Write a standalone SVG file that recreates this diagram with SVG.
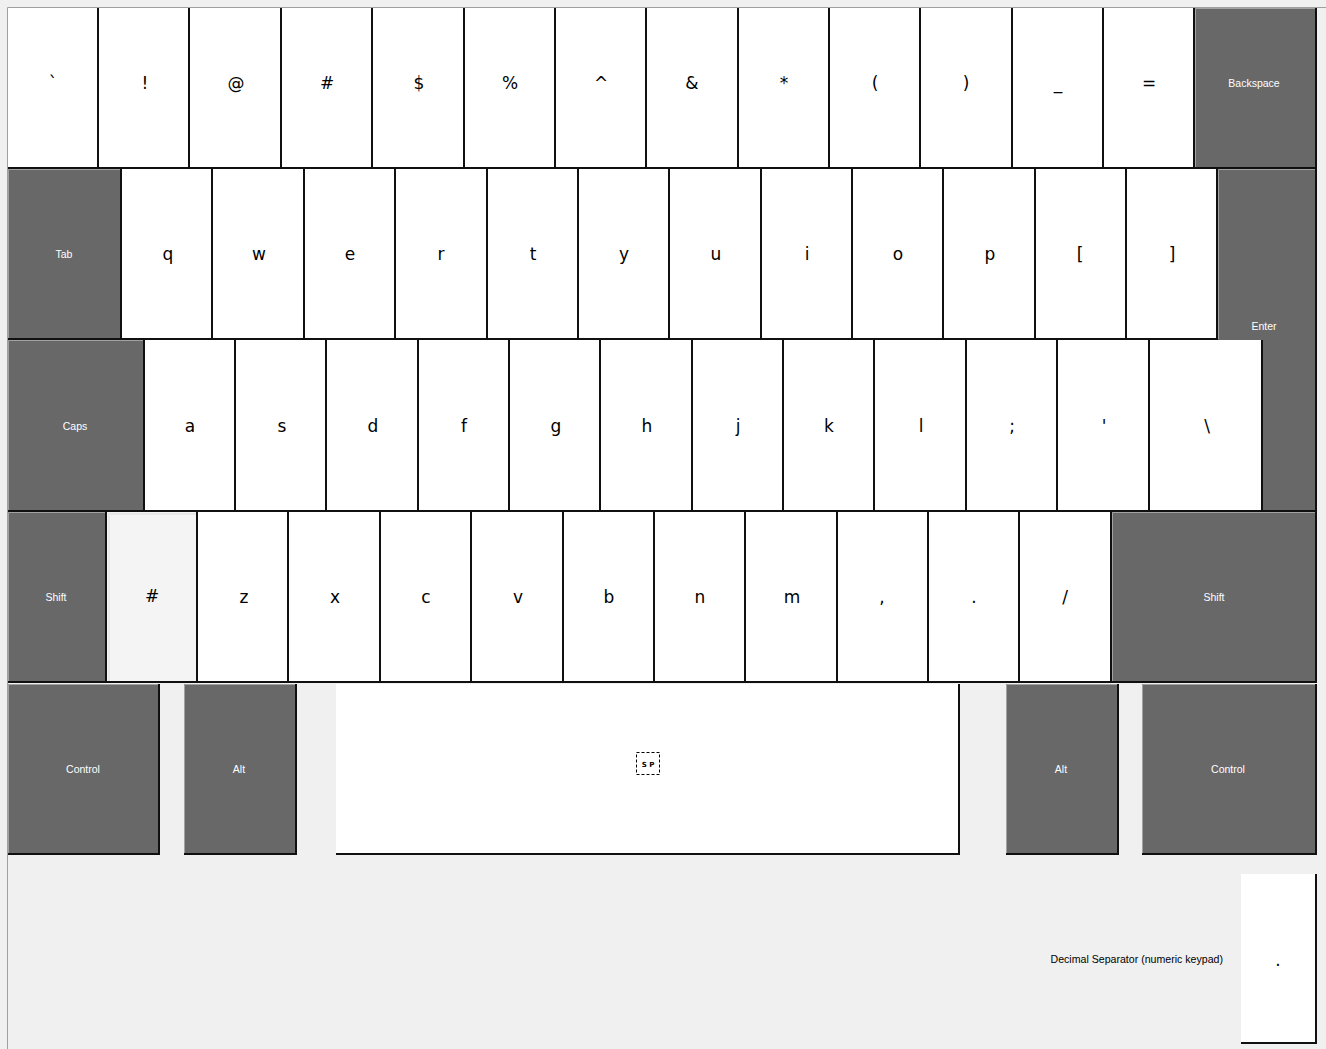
<svg xmlns="http://www.w3.org/2000/svg" width="1326" height="1049" viewBox="0 0 1326 1049">
<style>
.w{fill:#ffffff}
.d{fill:#686868}
.g{fill:#f4f4f4}
.sh{fill:none;stroke:#101010;stroke-width:2}
.hl{fill:none;stroke:#a2a2a2;stroke-width:1}
.hg{fill:none;stroke:#e8e8e8;stroke-width:2}
.t{font-family:"DejaVu Sans",sans-serif;font-size:17px;fill:#000;text-anchor:middle}
.s{font-family:"Liberation Sans",Arial,sans-serif;font-size:10.5px;fill:#fff;text-anchor:middle}
</style>
<rect x="0" y="0" width="1326" height="1049" fill="#f0f0f0"/>
<path d="M7.5 1049 V7.5 H1326" fill="none" stroke="#a0a0a0" stroke-width="1"/>
<g id="connectors"></g>
<!-- Row 1 -->
<g id="k-backtick"><rect class="w" x="8" y="8" width="91" height="161"/><polyline class="sh" points="8,168 98,168 98,8"/><text class="t" x="53" y="89">`</text></g>
<g id="k-excl"><rect class="w" x="99" y="8" width="91" height="161"/><polyline class="sh" points="99,168 189,168 189,8"/><text class="t" x="145" y="89">!</text></g>
<g id="k-at"><rect class="w" x="190" y="8" width="92" height="161"/><polyline class="sh" points="190,168 281,168 281,8"/><text class="t" x="236" y="89">@</text></g>
<g id="k-hash"><rect class="w" x="282" y="8" width="91" height="161"/><polyline class="sh" points="282,168 372,168 372,8"/><text class="t" x="327" y="89">#</text></g>
<g id="k-dollar"><rect class="w" x="373" y="8" width="92" height="161"/><polyline class="sh" points="373,168 464,168 464,8"/><text class="t" x="419" y="89">$</text></g>
<g id="k-percent"><rect class="w" x="465" y="8" width="91" height="161"/><polyline class="sh" points="465,168 555,168 555,8"/><text class="t" x="510" y="89">%</text></g>
<g id="k-caret"><rect class="w" x="556" y="8" width="91" height="161"/><polyline class="sh" points="556,168 646,168 646,8"/><text class="t" x="601" y="89">^</text></g>
<g id="k-amp"><rect class="w" x="647" y="8" width="92" height="161"/><polyline class="sh" points="647,168 738,168 738,8"/><text class="t" x="692" y="89">&amp;</text></g>
<g id="k-star"><rect class="w" x="739" y="8" width="91" height="161"/><polyline class="sh" points="739,168 829,168 829,8"/><text class="t" x="784" y="89">*</text></g>
<g id="k-lparen"><rect class="w" x="830" y="8" width="91" height="161"/><polyline class="sh" points="830,168 920,168 920,8"/><text class="t" x="875" y="89">(</text></g>
<g id="k-rparen"><rect class="w" x="921" y="8" width="92" height="161"/><polyline class="sh" points="921,168 1012,168 1012,8"/><text class="t" x="966" y="89">)</text></g>
<g id="k-underscore"><rect class="w" x="1013" y="8" width="91" height="161"/><polyline class="sh" points="1013,168 1103,168 1103,8"/><text class="t" x="1058" y="89">_</text></g>
<g id="k-equals"><rect class="w" x="1104" y="8" width="91" height="161"/><polyline class="sh" points="1104,168 1194,168 1194,8"/><text class="t" x="1149" y="89">=</text></g>
<g id="k-backspace"><rect class="d" x="1195" y="8" width="122" height="161"/><polyline class="hl" points="1195.5,167 1195.5,8.5 1316,8.5"/><polyline class="sh" points="1195,168 1316,168 1316,8"/><text class="s" x="1254" y="87">Backspace</text></g>
<!-- Row 2 -->
<g id="k-tab"><rect class="d" x="8" y="169" width="114" height="171"/><polyline class="hl" points="8.5,339 8.5,169.5 121,169.5"/><polyline class="sh" points="8,339 121,339 121,169"/><text class="s" x="64" y="258">Tab</text></g>
<g id="k-q"><rect class="w" x="122" y="169" width="91" height="171"/><polyline class="sh" points="122,339 212,339 212,169"/><text class="t" x="168" y="260">q</text></g>
<g id="k-w"><rect class="w" x="213" y="169" width="92" height="171"/><polyline class="sh" points="213,339 304,339 304,169"/><text class="t" x="259" y="260">w</text></g>
<g id="k-e"><rect class="w" x="305" y="169" width="91" height="171"/><polyline class="sh" points="305,339 395,339 395,169"/><text class="t" x="350" y="260">e</text></g>
<g id="k-r"><rect class="w" x="396" y="169" width="92" height="171"/><polyline class="sh" points="396,339 487,339 487,169"/><text class="t" x="441" y="260">r</text></g>
<g id="k-t"><rect class="w" x="488" y="169" width="91" height="171"/><polyline class="sh" points="488,339 578,339 578,169"/><text class="t" x="533" y="260">t</text></g>
<g id="k-y"><rect class="w" x="579" y="169" width="91" height="171"/><polyline class="sh" points="579,339 669,339 669,169"/><text class="t" x="624" y="260">y</text></g>
<g id="k-u"><rect class="w" x="670" y="169" width="92" height="171"/><polyline class="sh" points="670,339 761,339 761,169"/><text class="t" x="716" y="260">u</text></g>
<g id="k-i"><rect class="w" x="762" y="169" width="91" height="171"/><polyline class="sh" points="762,339 852,339 852,169"/><text class="t" x="807" y="260">i</text></g>
<g id="k-o"><rect class="w" x="853" y="169" width="91" height="171"/><polyline class="sh" points="853,339 943,339 943,169"/><text class="t" x="898" y="260">o</text></g>
<g id="k-p"><rect class="w" x="944" y="169" width="92" height="171"/><polyline class="sh" points="944,339 1035,339 1035,169"/><text class="t" x="990" y="260">p</text></g>
<g id="k-lbracket"><rect class="w" x="1036" y="169" width="91" height="171"/><polyline class="sh" points="1036,339 1126,339 1126,169"/><text class="t" x="1080" y="260">[</text></g>
<g id="k-rbracket"><rect class="w" x="1127" y="169" width="91" height="171"/><polyline class="sh" points="1127,339 1217,339 1217,169"/><text class="t" x="1172" y="260">]</text></g>
<g id="k-enter"><path class="d" d="M1218 169 H1317 V512 H1263 V340 H1218 Z"/><polyline class="hl" points="1218.5,339 1218.5,169.5 1316,169.5"/><polyline class="sh" points="1263,511 1316,511 1316,169"/><text class="s" x="1264" y="330">Enter</text></g>
<!-- Row 3 -->
<g id="k-caps"><rect class="d" x="8" y="340" width="137" height="172"/><polyline class="hl" points="8.5,510 8.5,340.5 144,340.5"/><polyline class="sh" points="8,511 144,511 144,340"/><text class="s" x="75" y="430">Caps</text></g>
<g id="k-a"><rect class="w" x="145" y="340" width="91" height="172"/><polyline class="sh" points="145,511 235,511 235,340"/><text class="t" x="190" y="432">a</text></g>
<g id="k-s"><rect class="w" x="236" y="340" width="91" height="172"/><polyline class="sh" points="236,511 326,511 326,340"/><text class="t" x="282" y="432">s</text></g>
<g id="k-d"><rect class="w" x="327" y="340" width="92" height="172"/><polyline class="sh" points="327,511 418,511 418,340"/><text class="t" x="373" y="432">d</text></g>
<g id="k-f"><rect class="w" x="419" y="340" width="91" height="172"/><polyline class="sh" points="419,511 509,511 509,340"/><text class="t" x="464" y="432">f</text></g>
<g id="k-g"><rect class="w" x="510" y="340" width="91" height="172"/><polyline class="sh" points="510,511 600,511 600,340"/><text class="t" x="556" y="432">g</text></g>
<g id="k-h"><rect class="w" x="601" y="340" width="92" height="172"/><polyline class="sh" points="601,511 692,511 692,340"/><text class="t" x="647" y="432">h</text></g>
<g id="k-j"><rect class="w" x="693" y="340" width="91" height="172"/><polyline class="sh" points="693,511 783,511 783,340"/><text class="t" x="738" y="432">j</text></g>
<g id="k-k"><rect class="w" x="784" y="340" width="91" height="172"/><polyline class="sh" points="784,511 874,511 874,340"/><text class="t" x="829" y="432">k</text></g>
<g id="k-l"><rect class="w" x="875" y="340" width="92" height="172"/><polyline class="sh" points="875,511 966,511 966,340"/><text class="t" x="921" y="432">l</text></g>
<g id="k-semicolon"><rect class="w" x="967" y="340" width="91" height="172"/><polyline class="sh" points="967,511 1057,511 1057,340"/><text class="t" x="1012" y="432">;</text></g>
<g id="k-quote"><rect class="w" x="1058" y="340" width="92" height="172"/><polyline class="sh" points="1058,511 1149,511 1149,340"/><text class="t" x="1104" y="432">'</text></g>
<g id="k-backslash"><rect class="w" x="1150" y="340" width="113" height="172"/><polyline class="sh" points="1150,511 1262,511 1262,340"/><text class="t" x="1207" y="432">\</text></g>
<!-- Row 4 -->
<g id="k-lshift"><rect class="d" x="8" y="512" width="99" height="171"/><polyline class="hl" points="8.5,682 8.5,512.5 106,512.5"/><polyline class="sh" points="8,682 106,682 106,512"/><text class="s" x="56" y="601">Shift</text></g>
<g id="k-hash2"><rect class="g" x="107" y="512" width="91" height="171"/><polyline class="hg" points="109,681 109,514 196,514"/><polyline class="sh" points="107,682 197,682 197,512"/><text class="t" x="152" y="602">#</text></g>
<g id="k-z"><rect class="w" x="198" y="512" width="91" height="171"/><polyline class="sh" points="198,682 288,682 288,512"/><text class="t" x="244" y="603">z</text></g>
<g id="k-x"><rect class="w" x="289" y="512" width="92" height="171"/><polyline class="sh" points="289,682 380,682 380,512"/><text class="t" x="335" y="603">x</text></g>
<g id="k-c"><rect class="w" x="381" y="512" width="91" height="171"/><polyline class="sh" points="381,682 471,682 471,512"/><text class="t" x="426" y="603">c</text></g>
<g id="k-v"><rect class="w" x="472" y="512" width="92" height="171"/><polyline class="sh" points="472,682 563,682 563,512"/><text class="t" x="518" y="603">v</text></g>
<g id="k-b"><rect class="w" x="564" y="512" width="91" height="171"/><polyline class="sh" points="564,682 654,682 654,512"/><text class="t" x="609" y="603">b</text></g>
<g id="k-n"><rect class="w" x="655" y="512" width="91" height="171"/><polyline class="sh" points="655,682 745,682 745,512"/><text class="t" x="700" y="603">n</text></g>
<g id="k-m"><rect class="w" x="746" y="512" width="92" height="171"/><polyline class="sh" points="746,682 837,682 837,512"/><text class="t" x="792" y="603">m</text></g>
<g id="k-comma"><rect class="w" x="838" y="512" width="91" height="171"/><polyline class="sh" points="838,682 928,682 928,512"/><text class="t" x="882" y="603">,</text></g>
<g id="k-period"><rect class="w" x="929" y="512" width="91" height="171"/><polyline class="sh" points="929,682 1019,682 1019,512"/><text class="t" x="974" y="603">.</text></g>
<g id="k-slash"><rect class="w" x="1020" y="512" width="92" height="171"/><polyline class="sh" points="1020,682 1111,682 1111,512"/><text class="t" x="1065" y="603">/</text></g>
<g id="k-rshift"><rect class="d" x="1112" y="512" width="205" height="171"/><polyline class="hl" points="1112.5,682 1112.5,512.5 1316,512.5"/><polyline class="sh" points="1112,682 1316,682 1316,512"/><text class="s" x="1214" y="601">Shift</text></g>
<!-- Row 5 -->
<g id="k-lcontrol"><rect class="d" x="8" y="684" width="152" height="171"/><polyline class="hl" points="8.5,854 8.5,684.5 159,684.5"/><polyline class="sh" points="8,854 159,854 159,684"/><text class="s" x="83" y="773">Control</text></g>
<g id="k-lalt"><rect class="d" x="184" y="684" width="113" height="171"/><polyline class="hl" points="184.5,854 184.5,684.5 296,684.5"/><polyline class="sh" points="184,854 296,854 296,684"/><text class="s" x="239" y="773">Alt</text></g>
<g id="k-space"><rect class="w" x="336" y="684" width="624" height="171"/><polyline class="sh" points="336,854 959,854 959,684"/><rect x="636.5" y="752.5" width="23" height="22" fill="none" stroke="#000" stroke-width="1" stroke-dasharray="3,2"/><text x="648" y="767" font-family="DejaVu Sans, sans-serif" font-size="7" font-weight="bold" text-anchor="middle" fill="#000">S P</text></g>
<g id="k-ralt"><rect class="d" x="1006" y="684" width="113" height="171"/><polyline class="hl" points="1006.5,854 1006.5,684.5 1118,684.5"/><polyline class="sh" points="1006,854 1118,854 1118,684"/><text class="s" x="1061" y="773">Alt</text></g>
<g id="k-rcontrol"><rect class="d" x="1142" y="684" width="175" height="171"/><polyline class="hl" points="1142.5,854 1142.5,684.5 1316,684.5"/><polyline class="sh" points="1142,854 1316,854 1316,684"/><text class="s" x="1228" y="773">Control</text></g>
<!-- Decimal separator -->
<g id="k-decimal"><text x="1223" y="963" font-family="Liberation Sans, Arial, sans-serif" font-size="10.6" fill="#000" text-anchor="end">Decimal Separator (numeric keypad)</text><rect class="w" x="1241" y="874" width="76" height="170"/><polyline class="sh" points="1241,1043 1316,1043 1316,874"/><text class="t" x="1278" y="966">.</text></g>
</svg>
